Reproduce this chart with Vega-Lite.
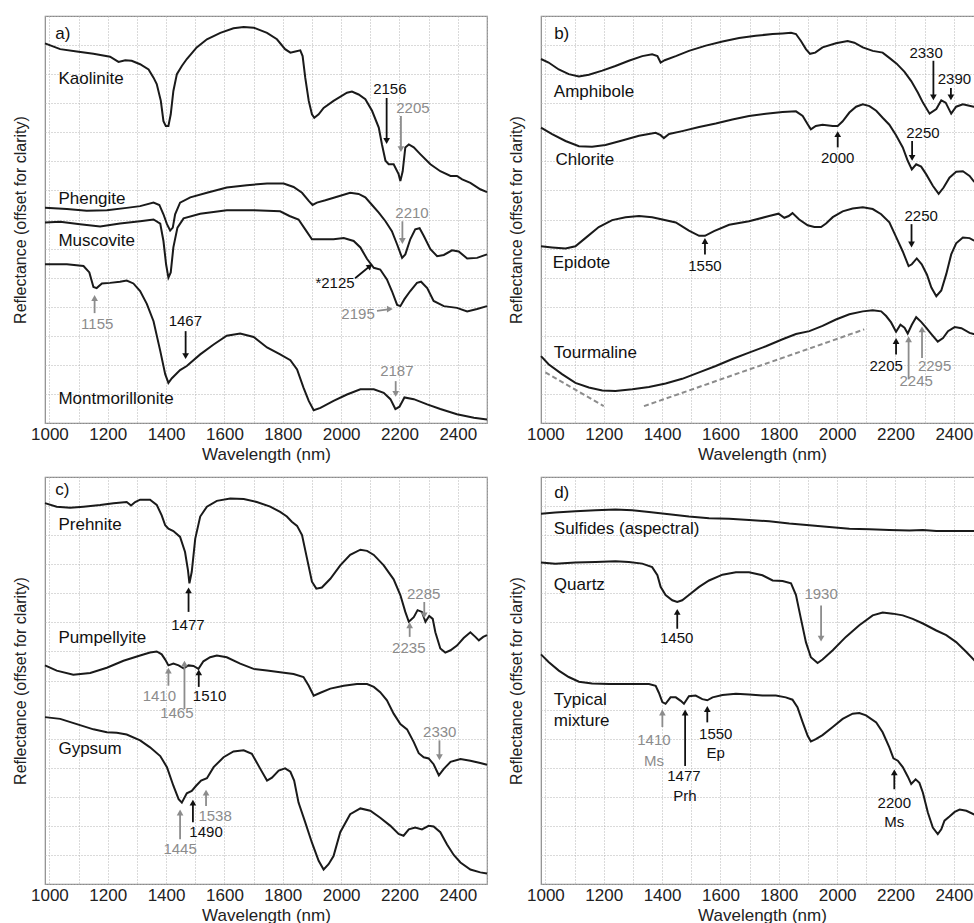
{
"$schema": "https://vega.github.io/schema/vega-lite/v6.json",
"padding": {"left": 11, "top": 15, "right": 0, "bottom": 0},
"background": "white",
"config": {
  "view": {"stroke": "#8a8a8a", "strokeWidth": 1.2},
  "axis": {"domain": false, "labelFont": "Liberation Sans", "titleFont": "Liberation Sans", "titleFontWeight": "normal", "labelColor": "#222", "titleColor": "#222", "tickColor": "#707070", "gridColor": "#b4b4b4", "gridDash": [1, 2], "gridWidth": 1},
  "axisX": {"values": [1000,1050,1100,1150,1200,1250,1300,1350,1400,1450,1500,1550,1600,1650,1700,1750,1800,1850,1900,1950,2000,2050,2100,2150,2200,2250,2300,2350,2400,2450,2500], "format": "d", "labelExpr": "datum.value % 200 === 0 ? datum.label : ''", "labelOverlap": false, "labelFlush": false, "labelFontSize": 17, "titleFontSize": 17, "labelPadding": 8, "titlePadding": 4, "tickSize": -5, "tickOpacity": {"condition": {"test": "datum.value % 100 === 0", "value": 1}, "value": 0}, "grid": true},
  "axisY": {"values": [0,0.2,0.4,0.6,0.8,1,1.2,1.4,1.6,1.8,2,2.2,2.4,2.6,2.8,3,3.2,3.4,3.6,3.8,4,4.2,4.4,4.6,4.8,5,5.2,5.4,5.6,5.8,6,6.2,6.4,6.6,6.8,7], "labels": false, "titleFontSize": 16, "titlePadding": 17, "tickSize": -6, "tickOpacity": {"condition": {"test": "abs(datum.value - round(datum.value)) < 0.01", "value": 1}, "value": 0}, "grid": true}
},
"datasets": {
"all": [
{"kind":"curve","panel":"a","series":"Kaolinite","x":985,"y":6.53},{"kind":"curve","panel":"a","series":"Kaolinite","x":1037,"y":6.43},{"kind":"curve","panel":"a","series":"Kaolinite","x":1094,"y":6.39},{"kind":"curve","panel":"a","series":"Kaolinite","x":1151,"y":6.35},{"kind":"curve","panel":"a","series":"Kaolinite","x":1208,"y":6.30},{"kind":"curve","panel":"a","series":"Kaolinite","x":1237,"y":6.21},{"kind":"curve","panel":"a","series":"Kaolinite","x":1260,"y":6.24},{"kind":"curve","panel":"a","series":"Kaolinite","x":1282,"y":6.23},{"kind":"curve","panel":"a","series":"Kaolinite","x":1311,"y":6.17},{"kind":"curve","panel":"a","series":"Kaolinite","x":1340,"y":6.08},{"kind":"curve","panel":"a","series":"Kaolinite","x":1357,"y":5.94},{"kind":"curve","panel":"a","series":"Kaolinite","x":1368,"y":5.83},{"kind":"curve","panel":"a","series":"Kaolinite","x":1382,"y":5.54},{"kind":"curve","panel":"a","series":"Kaolinite","x":1391,"y":5.19},{"kind":"curve","panel":"a","series":"Kaolinite","x":1399,"y":5.11},{"kind":"curve","panel":"a","series":"Kaolinite","x":1408,"y":5.11},{"kind":"curve","panel":"a","series":"Kaolinite","x":1416,"y":5.31},{"kind":"curve","panel":"a","series":"Kaolinite","x":1425,"y":5.71},{"kind":"curve","panel":"a","series":"Kaolinite","x":1437,"y":6.00},{"kind":"curve","panel":"a","series":"Kaolinite","x":1454,"y":6.14},{"kind":"curve","panel":"a","series":"Kaolinite","x":1471,"y":6.26},{"kind":"curve","panel":"a","series":"Kaolinite","x":1505,"y":6.46},{"kind":"curve","panel":"a","series":"Kaolinite","x":1540,"y":6.60},{"kind":"curve","panel":"a","series":"Kaolinite","x":1586,"y":6.71},{"kind":"curve","panel":"a","series":"Kaolinite","x":1631,"y":6.79},{"kind":"curve","panel":"a","series":"Kaolinite","x":1666,"y":6.81},{"kind":"curve","panel":"a","series":"Kaolinite","x":1700,"y":6.80},{"kind":"curve","panel":"a","series":"Kaolinite","x":1746,"y":6.71},{"kind":"curve","panel":"a","series":"Kaolinite","x":1780,"y":6.60},{"kind":"curve","panel":"a","series":"Kaolinite","x":1808,"y":6.43},{"kind":"curve","panel":"a","series":"Kaolinite","x":1826,"y":6.37},{"kind":"curve","panel":"a","series":"Kaolinite","x":1843,"y":6.39},{"kind":"curve","panel":"a","series":"Kaolinite","x":1860,"y":6.41},{"kind":"curve","panel":"a","series":"Kaolinite","x":1868,"y":6.31},{"kind":"curve","panel":"a","series":"Kaolinite","x":1877,"y":5.94},{"kind":"curve","panel":"a","series":"Kaolinite","x":1889,"y":5.54},{"kind":"curve","panel":"a","series":"Kaolinite","x":1900,"y":5.31},{"kind":"curve","panel":"a","series":"Kaolinite","x":1908,"y":5.25},{"kind":"curve","panel":"a","series":"Kaolinite","x":1923,"y":5.31},{"kind":"curve","panel":"a","series":"Kaolinite","x":1940,"y":5.42},{"kind":"curve","panel":"a","series":"Kaolinite","x":1974,"y":5.54},{"kind":"curve","panel":"a","series":"Kaolinite","x":2020,"y":5.68},{"kind":"curve","panel":"a","series":"Kaolinite","x":2037,"y":5.70},{"kind":"curve","panel":"a","series":"Kaolinite","x":2060,"y":5.65},{"kind":"curve","panel":"a","series":"Kaolinite","x":2083,"y":5.57},{"kind":"curve","panel":"a","series":"Kaolinite","x":2106,"y":5.37},{"kind":"curve","panel":"a","series":"Kaolinite","x":2129,"y":5.08},{"kind":"curve","panel":"a","series":"Kaolinite","x":2140,"y":4.79},{"kind":"curve","panel":"a","series":"Kaolinite","x":2152,"y":4.51},{"kind":"curve","panel":"a","series":"Kaolinite","x":2163,"y":4.45},{"kind":"curve","panel":"a","series":"Kaolinite","x":2180,"y":4.45},{"kind":"curve","panel":"a","series":"Kaolinite","x":2197,"y":4.28},{"kind":"curve","panel":"a","series":"Kaolinite","x":2203,"y":4.16},{"kind":"curve","panel":"a","series":"Kaolinite","x":2211,"y":4.33},{"kind":"curve","panel":"a","series":"Kaolinite","x":2220,"y":4.74},{"kind":"curve","panel":"a","series":"Kaolinite","x":2232,"y":4.79},{"kind":"curve","panel":"a","series":"Kaolinite","x":2249,"y":4.74},{"kind":"curve","panel":"a","series":"Kaolinite","x":2272,"y":4.62},{"kind":"curve","panel":"a","series":"Kaolinite","x":2306,"y":4.45},{"kind":"curve","panel":"a","series":"Kaolinite","x":2340,"y":4.33},{"kind":"curve","panel":"a","series":"Kaolinite","x":2375,"y":4.25},{"kind":"curve","panel":"a","series":"Kaolinite","x":2397,"y":4.25},{"kind":"curve","panel":"a","series":"Kaolinite","x":2415,"y":4.19},{"kind":"curve","panel":"a","series":"Kaolinite","x":2443,"y":4.13},{"kind":"curve","panel":"a","series":"Kaolinite","x":2477,"y":4.02},{"kind":"curve","panel":"a","series":"Kaolinite","x":2500,"y":3.97},
{"kind":"curve","panel":"a","series":"Phengite","x":985,"y":3.70},{"kind":"curve","panel":"a","series":"Phengite","x":1060,"y":3.68},{"kind":"curve","panel":"a","series":"Phengite","x":1128,"y":3.65},{"kind":"curve","panel":"a","series":"Phengite","x":1197,"y":3.66},{"kind":"curve","panel":"a","series":"Phengite","x":1265,"y":3.70},{"kind":"curve","panel":"a","series":"Phengite","x":1311,"y":3.73},{"kind":"curve","panel":"a","series":"Phengite","x":1357,"y":3.79},{"kind":"curve","panel":"a","series":"Phengite","x":1377,"y":3.75},{"kind":"curve","panel":"a","series":"Phengite","x":1391,"y":3.59},{"kind":"curve","panel":"a","series":"Phengite","x":1403,"y":3.42},{"kind":"curve","panel":"a","series":"Phengite","x":1414,"y":3.31},{"kind":"curve","panel":"a","series":"Phengite","x":1423,"y":3.36},{"kind":"curve","panel":"a","series":"Phengite","x":1431,"y":3.59},{"kind":"curve","panel":"a","series":"Phengite","x":1448,"y":3.79},{"kind":"curve","panel":"a","series":"Phengite","x":1483,"y":3.88},{"kind":"curve","panel":"a","series":"Phengite","x":1540,"y":3.96},{"kind":"curve","panel":"a","series":"Phengite","x":1608,"y":4.05},{"kind":"curve","panel":"a","series":"Phengite","x":1677,"y":4.09},{"kind":"curve","panel":"a","series":"Phengite","x":1746,"y":4.12},{"kind":"curve","panel":"a","series":"Phengite","x":1803,"y":4.12},{"kind":"curve","panel":"a","series":"Phengite","x":1837,"y":4.06},{"kind":"curve","panel":"a","series":"Phengite","x":1866,"y":3.96},{"kind":"curve","panel":"a","series":"Phengite","x":1889,"y":3.82},{"kind":"curve","panel":"a","series":"Phengite","x":1902,"y":3.75},{"kind":"curve","panel":"a","series":"Phengite","x":1917,"y":3.79},{"kind":"curve","panel":"a","series":"Phengite","x":1946,"y":3.83},{"kind":"curve","panel":"a","series":"Phengite","x":1986,"y":3.89},{"kind":"curve","panel":"a","series":"Phengite","x":2031,"y":3.96},{"kind":"curve","panel":"a","series":"Phengite","x":2060,"y":3.94},{"kind":"curve","panel":"a","series":"Phengite","x":2083,"y":3.88},{"kind":"curve","panel":"a","series":"Phengite","x":2106,"y":3.75},{"kind":"curve","panel":"a","series":"Phengite","x":2129,"y":3.62},{"kind":"curve","panel":"a","series":"Phengite","x":2152,"y":3.47},{"kind":"curve","panel":"a","series":"Phengite","x":2174,"y":3.30},{"kind":"curve","panel":"a","series":"Phengite","x":2192,"y":3.07},{"kind":"curve","panel":"a","series":"Phengite","x":2209,"y":2.84},{"kind":"curve","panel":"a","series":"Phengite","x":2220,"y":2.90},{"kind":"curve","panel":"a","series":"Phengite","x":2237,"y":3.16},{"kind":"curve","panel":"a","series":"Phengite","x":2254,"y":3.33},{"kind":"curve","panel":"a","series":"Phengite","x":2269,"y":3.35},{"kind":"curve","panel":"a","series":"Phengite","x":2283,"y":3.22},{"kind":"curve","panel":"a","series":"Phengite","x":2306,"y":2.99},{"kind":"curve","panel":"a","series":"Phengite","x":2329,"y":2.87},{"kind":"curve","panel":"a","series":"Phengite","x":2352,"y":2.89},{"kind":"curve","panel":"a","series":"Phengite","x":2380,"y":2.97},{"kind":"curve","panel":"a","series":"Phengite","x":2403,"y":2.95},{"kind":"curve","panel":"a","series":"Phengite","x":2432,"y":2.83},{"kind":"curve","panel":"a","series":"Phengite","x":2466,"y":2.84},{"kind":"curve","panel":"a","series":"Phengite","x":2500,"y":2.90},
{"kind":"curve","panel":"a","series":"Muscovite","x":985,"y":3.45},{"kind":"curve","panel":"a","series":"Muscovite","x":1037,"y":3.46},{"kind":"curve","panel":"a","series":"Muscovite","x":1105,"y":3.42},{"kind":"curve","panel":"a","series":"Muscovite","x":1174,"y":3.38},{"kind":"curve","panel":"a","series":"Muscovite","x":1242,"y":3.43},{"kind":"curve","panel":"a","series":"Muscovite","x":1311,"y":3.47},{"kind":"curve","panel":"a","series":"Muscovite","x":1357,"y":3.50},{"kind":"curve","panel":"a","series":"Muscovite","x":1380,"y":3.43},{"kind":"curve","panel":"a","series":"Muscovite","x":1391,"y":3.13},{"kind":"curve","panel":"a","series":"Muscovite","x":1400,"y":2.73},{"kind":"curve","panel":"a","series":"Muscovite","x":1408,"y":2.50},{"kind":"curve","panel":"a","series":"Muscovite","x":1416,"y":2.59},{"kind":"curve","panel":"a","series":"Muscovite","x":1425,"y":3.02},{"kind":"curve","panel":"a","series":"Muscovite","x":1439,"y":3.36},{"kind":"curve","panel":"a","series":"Muscovite","x":1460,"y":3.52},{"kind":"curve","panel":"a","series":"Muscovite","x":1517,"y":3.60},{"kind":"curve","panel":"a","series":"Muscovite","x":1608,"y":3.66},{"kind":"curve","panel":"a","series":"Muscovite","x":1700,"y":3.66},{"kind":"curve","panel":"a","series":"Muscovite","x":1791,"y":3.64},{"kind":"curve","panel":"a","series":"Muscovite","x":1823,"y":3.56},{"kind":"curve","panel":"a","series":"Muscovite","x":1854,"y":3.50},{"kind":"curve","panel":"a","series":"Muscovite","x":1877,"y":3.33},{"kind":"curve","panel":"a","series":"Muscovite","x":1900,"y":3.16},{"kind":"curve","panel":"a","series":"Muscovite","x":1929,"y":3.16},{"kind":"curve","panel":"a","series":"Muscovite","x":1974,"y":3.16},{"kind":"curve","panel":"a","series":"Muscovite","x":2009,"y":3.18},{"kind":"curve","panel":"a","series":"Muscovite","x":2043,"y":3.13},{"kind":"curve","panel":"a","series":"Muscovite","x":2066,"y":3.02},{"kind":"curve","panel":"a","series":"Muscovite","x":2089,"y":2.82},{"kind":"curve","panel":"a","series":"Muscovite","x":2112,"y":2.67},{"kind":"curve","panel":"a","series":"Muscovite","x":2134,"y":2.64},{"kind":"curve","panel":"a","series":"Muscovite","x":2157,"y":2.47},{"kind":"curve","panel":"a","series":"Muscovite","x":2174,"y":2.27},{"kind":"curve","panel":"a","series":"Muscovite","x":2192,"y":2.03},{"kind":"curve","panel":"a","series":"Muscovite","x":2203,"y":2.01},{"kind":"curve","panel":"a","series":"Muscovite","x":2217,"y":2.13},{"kind":"curve","panel":"a","series":"Muscovite","x":2237,"y":2.27},{"kind":"curve","panel":"a","series":"Muscovite","x":2260,"y":2.41},{"kind":"curve","panel":"a","series":"Muscovite","x":2274,"y":2.43},{"kind":"curve","panel":"a","series":"Muscovite","x":2295,"y":2.32},{"kind":"curve","panel":"a","series":"Muscovite","x":2317,"y":2.10},{"kind":"curve","panel":"a","series":"Muscovite","x":2352,"y":2.01},{"kind":"curve","panel":"a","series":"Muscovite","x":2397,"y":1.98},{"kind":"curve","panel":"a","series":"Muscovite","x":2432,"y":1.92},{"kind":"curve","panel":"a","series":"Muscovite","x":2466,"y":1.96},{"kind":"curve","panel":"a","series":"Muscovite","x":2500,"y":2.01},
{"kind":"curve","panel":"a","series":"Montmorillonite","x":985,"y":2.73},{"kind":"curve","panel":"a","series":"Montmorillonite","x":1060,"y":2.73},{"kind":"curve","panel":"a","series":"Montmorillonite","x":1117,"y":2.70},{"kind":"curve","panel":"a","series":"Montmorillonite","x":1137,"y":2.59},{"kind":"curve","panel":"a","series":"Montmorillonite","x":1151,"y":2.34},{"kind":"curve","panel":"a","series":"Montmorillonite","x":1162,"y":2.32},{"kind":"curve","panel":"a","series":"Montmorillonite","x":1180,"y":2.40},{"kind":"curve","panel":"a","series":"Montmorillonite","x":1208,"y":2.41},{"kind":"curve","panel":"a","series":"Montmorillonite","x":1242,"y":2.43},{"kind":"curve","panel":"a","series":"Montmorillonite","x":1265,"y":2.45},{"kind":"curve","panel":"a","series":"Montmorillonite","x":1288,"y":2.40},{"kind":"curve","panel":"a","series":"Montmorillonite","x":1311,"y":2.27},{"kind":"curve","panel":"a","series":"Montmorillonite","x":1334,"y":2.05},{"kind":"curve","panel":"a","series":"Montmorillonite","x":1357,"y":1.75},{"kind":"curve","panel":"a","series":"Montmorillonite","x":1380,"y":1.24},{"kind":"curve","panel":"a","series":"Montmorillonite","x":1397,"y":0.84},{"kind":"curve","panel":"a","series":"Montmorillonite","x":1408,"y":0.69},{"kind":"curve","panel":"a","series":"Montmorillonite","x":1420,"y":0.77},{"kind":"curve","panel":"a","series":"Montmorillonite","x":1448,"y":0.91},{"kind":"curve","panel":"a","series":"Montmorillonite","x":1471,"y":0.98},{"kind":"curve","panel":"a","series":"Montmorillonite","x":1517,"y":1.18},{"kind":"curve","panel":"a","series":"Montmorillonite","x":1563,"y":1.35},{"kind":"curve","panel":"a","series":"Montmorillonite","x":1608,"y":1.50},{"kind":"curve","panel":"a","series":"Montmorillonite","x":1654,"y":1.54},{"kind":"curve","panel":"a","series":"Montmorillonite","x":1700,"y":1.48},{"kind":"curve","panel":"a","series":"Montmorillonite","x":1746,"y":1.30},{"kind":"curve","panel":"a","series":"Montmorillonite","x":1791,"y":1.18},{"kind":"curve","panel":"a","series":"Montmorillonite","x":1826,"y":1.08},{"kind":"curve","panel":"a","series":"Montmorillonite","x":1849,"y":0.92},{"kind":"curve","panel":"a","series":"Montmorillonite","x":1871,"y":0.61},{"kind":"curve","panel":"a","series":"Montmorillonite","x":1889,"y":0.38},{"kind":"curve","panel":"a","series":"Montmorillonite","x":1906,"y":0.22},{"kind":"curve","panel":"a","series":"Montmorillonite","x":1929,"y":0.26},{"kind":"curve","panel":"a","series":"Montmorillonite","x":1974,"y":0.38},{"kind":"curve","panel":"a","series":"Montmorillonite","x":2020,"y":0.49},{"kind":"curve","panel":"a","series":"Montmorillonite","x":2066,"y":0.58},{"kind":"curve","panel":"a","series":"Montmorillonite","x":2112,"y":0.58},{"kind":"curve","panel":"a","series":"Montmorillonite","x":2146,"y":0.52},{"kind":"curve","panel":"a","series":"Montmorillonite","x":2169,"y":0.41},{"kind":"curve","panel":"a","series":"Montmorillonite","x":2186,"y":0.24},{"kind":"curve","panel":"a","series":"Montmorillonite","x":2200,"y":0.28},{"kind":"curve","panel":"a","series":"Montmorillonite","x":2217,"y":0.44},{"kind":"curve","panel":"a","series":"Montmorillonite","x":2249,"y":0.41},{"kind":"curve","panel":"a","series":"Montmorillonite","x":2295,"y":0.32},{"kind":"curve","panel":"a","series":"Montmorillonite","x":2340,"y":0.24},{"kind":"curve","panel":"a","series":"Montmorillonite","x":2397,"y":0.15},{"kind":"curve","panel":"a","series":"Montmorillonite","x":2455,"y":0.09},{"kind":"curve","panel":"a","series":"Montmorillonite","x":2500,"y":0.06},
{"kind":"curve","panel":"b","series":"Amphibole","x":985,"y":6.26},{"kind":"curve","panel":"b","series":"Amphibole","x":1011,"y":6.20},{"kind":"curve","panel":"b","series":"Amphibole","x":1046,"y":6.08},{"kind":"curve","panel":"b","series":"Amphibole","x":1080,"y":6.00},{"kind":"curve","panel":"b","series":"Amphibole","x":1115,"y":5.96},{"kind":"curve","panel":"b","series":"Amphibole","x":1149,"y":5.99},{"kind":"curve","panel":"b","series":"Amphibole","x":1195,"y":6.06},{"kind":"curve","panel":"b","series":"Amphibole","x":1240,"y":6.14},{"kind":"curve","panel":"b","series":"Amphibole","x":1286,"y":6.23},{"kind":"curve","panel":"b","series":"Amphibole","x":1332,"y":6.31},{"kind":"curve","panel":"b","series":"Amphibole","x":1366,"y":6.34},{"kind":"curve","panel":"b","series":"Amphibole","x":1384,"y":6.31},{"kind":"curve","panel":"b","series":"Amphibole","x":1395,"y":6.20},{"kind":"curve","panel":"b","series":"Amphibole","x":1409,"y":6.24},{"kind":"curve","panel":"b","series":"Amphibole","x":1447,"y":6.31},{"kind":"curve","panel":"b","series":"Amphibole","x":1492,"y":6.40},{"kind":"curve","panel":"b","series":"Amphibole","x":1550,"y":6.49},{"kind":"curve","panel":"b","series":"Amphibole","x":1607,"y":6.56},{"kind":"curve","panel":"b","series":"Amphibole","x":1664,"y":6.62},{"kind":"curve","panel":"b","series":"Amphibole","x":1721,"y":6.66},{"kind":"curve","panel":"b","series":"Amphibole","x":1779,"y":6.69},{"kind":"curve","panel":"b","series":"Amphibole","x":1813,"y":6.70},{"kind":"curve","panel":"b","series":"Amphibole","x":1842,"y":6.71},{"kind":"curve","panel":"b","series":"Amphibole","x":1859,"y":6.69},{"kind":"curve","panel":"b","series":"Amphibole","x":1876,"y":6.57},{"kind":"curve","panel":"b","series":"Amphibole","x":1893,"y":6.43},{"kind":"curve","panel":"b","series":"Amphibole","x":1907,"y":6.35},{"kind":"curve","panel":"b","series":"Amphibole","x":1925,"y":6.37},{"kind":"curve","panel":"b","series":"Amphibole","x":1950,"y":6.46},{"kind":"curve","panel":"b","series":"Amphibole","x":1996,"y":6.53},{"kind":"curve","panel":"b","series":"Amphibole","x":2036,"y":6.57},{"kind":"curve","panel":"b","series":"Amphibole","x":2059,"y":6.54},{"kind":"curve","panel":"b","series":"Amphibole","x":2088,"y":6.46},{"kind":"curve","panel":"b","series":"Amphibole","x":2122,"y":6.40},{"kind":"curve","panel":"b","series":"Amphibole","x":2156,"y":6.37},{"kind":"curve","panel":"b","series":"Amphibole","x":2179,"y":6.28},{"kind":"curve","panel":"b","series":"Amphibole","x":2204,"y":6.18},{"kind":"curve","panel":"b","series":"Amphibole","x":2231,"y":6.04},{"kind":"curve","panel":"b","series":"Amphibole","x":2254,"y":5.88},{"kind":"curve","panel":"b","series":"Amphibole","x":2277,"y":5.68},{"kind":"curve","panel":"b","series":"Amphibole","x":2294,"y":5.51},{"kind":"curve","panel":"b","series":"Amphibole","x":2317,"y":5.32},{"kind":"curve","panel":"b","series":"Amphibole","x":2340,"y":5.40},{"kind":"curve","panel":"b","series":"Amphibole","x":2357,"y":5.55},{"kind":"curve","panel":"b","series":"Amphibole","x":2372,"y":5.51},{"kind":"curve","panel":"b","series":"Amphibole","x":2391,"y":5.32},{"kind":"curve","panel":"b","series":"Amphibole","x":2408,"y":5.44},{"kind":"curve","panel":"b","series":"Amphibole","x":2431,"y":5.48},{"kind":"curve","panel":"b","series":"Amphibole","x":2468,"y":5.44},{"kind":"curve","panel":"b","series":"Amphibole","x":2500,"y":5.40},
{"kind":"curve","panel":"b","series":"Chlorite","x":985,"y":5.08},{"kind":"curve","panel":"b","series":"Chlorite","x":1023,"y":4.97},{"kind":"curve","panel":"b","series":"Chlorite","x":1069,"y":4.85},{"kind":"curve","panel":"b","series":"Chlorite","x":1115,"y":4.76},{"kind":"curve","panel":"b","series":"Chlorite","x":1160,"y":4.75},{"kind":"curve","panel":"b","series":"Chlorite","x":1206,"y":4.78},{"kind":"curve","panel":"b","series":"Chlorite","x":1263,"y":4.86},{"kind":"curve","panel":"b","series":"Chlorite","x":1321,"y":4.94},{"kind":"curve","panel":"b","series":"Chlorite","x":1378,"y":4.99},{"kind":"curve","panel":"b","series":"Chlorite","x":1395,"y":4.95},{"kind":"curve","panel":"b","series":"Chlorite","x":1406,"y":4.90},{"kind":"curve","panel":"b","series":"Chlorite","x":1424,"y":4.97},{"kind":"curve","panel":"b","series":"Chlorite","x":1469,"y":5.02},{"kind":"curve","panel":"b","series":"Chlorite","x":1527,"y":5.09},{"kind":"curve","panel":"b","series":"Chlorite","x":1584,"y":5.15},{"kind":"curve","panel":"b","series":"Chlorite","x":1641,"y":5.22},{"kind":"curve","panel":"b","series":"Chlorite","x":1698,"y":5.28},{"kind":"curve","panel":"b","series":"Chlorite","x":1756,"y":5.32},{"kind":"curve","panel":"b","series":"Chlorite","x":1813,"y":5.35},{"kind":"curve","panel":"b","series":"Chlorite","x":1859,"y":5.36},{"kind":"curve","panel":"b","series":"Chlorite","x":1882,"y":5.28},{"kind":"curve","panel":"b","series":"Chlorite","x":1899,"y":5.14},{"kind":"curve","panel":"b","series":"Chlorite","x":1910,"y":5.05},{"kind":"curve","panel":"b","series":"Chlorite","x":1927,"y":5.11},{"kind":"curve","panel":"b","series":"Chlorite","x":1950,"y":5.13},{"kind":"curve","panel":"b","series":"Chlorite","x":1985,"y":5.11},{"kind":"curve","panel":"b","series":"Chlorite","x":2002,"y":5.11},{"kind":"curve","panel":"b","series":"Chlorite","x":2019,"y":5.19},{"kind":"curve","panel":"b","series":"Chlorite","x":2042,"y":5.34},{"kind":"curve","panel":"b","series":"Chlorite","x":2065,"y":5.44},{"kind":"curve","panel":"b","series":"Chlorite","x":2088,"y":5.48},{"kind":"curve","panel":"b","series":"Chlorite","x":2111,"y":5.45},{"kind":"curve","panel":"b","series":"Chlorite","x":2134,"y":5.37},{"kind":"curve","panel":"b","series":"Chlorite","x":2156,"y":5.25},{"kind":"curve","panel":"b","series":"Chlorite","x":2179,"y":5.13},{"kind":"curve","panel":"b","series":"Chlorite","x":2202,"y":4.95},{"kind":"curve","panel":"b","series":"Chlorite","x":2225,"y":4.74},{"kind":"curve","panel":"b","series":"Chlorite","x":2242,"y":4.51},{"kind":"curve","panel":"b","series":"Chlorite","x":2256,"y":4.36},{"kind":"curve","panel":"b","series":"Chlorite","x":2271,"y":4.45},{"kind":"curve","panel":"b","series":"Chlorite","x":2288,"y":4.41},{"kind":"curve","panel":"b","series":"Chlorite","x":2305,"y":4.28},{"kind":"curve","panel":"b","series":"Chlorite","x":2328,"y":4.08},{"kind":"curve","panel":"b","series":"Chlorite","x":2348,"y":3.94},{"kind":"curve","panel":"b","series":"Chlorite","x":2365,"y":4.05},{"kind":"curve","panel":"b","series":"Chlorite","x":2385,"y":4.22},{"kind":"curve","panel":"b","series":"Chlorite","x":2408,"y":4.32},{"kind":"curve","panel":"b","series":"Chlorite","x":2431,"y":4.33},{"kind":"curve","panel":"b","series":"Chlorite","x":2454,"y":4.25},{"kind":"curve","panel":"b","series":"Chlorite","x":2468,"y":4.16},{"kind":"curve","panel":"b","series":"Chlorite","x":2500,"y":4.00},
{"kind":"curve","panel":"b","series":"Epidote","x":985,"y":3.04},{"kind":"curve","panel":"b","series":"Epidote","x":1023,"y":3.02},{"kind":"curve","panel":"b","series":"Epidote","x":1069,"y":3.00},{"kind":"curve","panel":"b","series":"Epidote","x":1103,"y":3.04},{"kind":"curve","panel":"b","series":"Epidote","x":1137,"y":3.18},{"kind":"curve","panel":"b","series":"Epidote","x":1183,"y":3.37},{"kind":"curve","panel":"b","series":"Epidote","x":1229,"y":3.49},{"kind":"curve","panel":"b","series":"Epidote","x":1275,"y":3.54},{"kind":"curve","panel":"b","series":"Epidote","x":1321,"y":3.56},{"kind":"curve","panel":"b","series":"Epidote","x":1366,"y":3.54},{"kind":"curve","panel":"b","series":"Epidote","x":1401,"y":3.50},{"kind":"curve","panel":"b","series":"Epidote","x":1447,"y":3.45},{"kind":"curve","panel":"b","series":"Epidote","x":1492,"y":3.31},{"kind":"curve","panel":"b","series":"Epidote","x":1527,"y":3.22},{"kind":"curve","panel":"b","series":"Epidote","x":1547,"y":3.22},{"kind":"curve","panel":"b","series":"Epidote","x":1578,"y":3.30},{"kind":"curve","panel":"b","series":"Epidote","x":1630,"y":3.41},{"kind":"curve","panel":"b","series":"Epidote","x":1698,"y":3.47},{"kind":"curve","panel":"b","series":"Epidote","x":1767,"y":3.56},{"kind":"curve","panel":"b","series":"Epidote","x":1799,"y":3.60},{"kind":"curve","panel":"b","series":"Epidote","x":1819,"y":3.53},{"kind":"curve","panel":"b","series":"Epidote","x":1834,"y":3.56},{"kind":"curve","panel":"b","series":"Epidote","x":1847,"y":3.61},{"kind":"curve","panel":"b","series":"Epidote","x":1870,"y":3.50},{"kind":"curve","panel":"b","series":"Epidote","x":1899,"y":3.40},{"kind":"curve","panel":"b","series":"Epidote","x":1922,"y":3.37},{"kind":"curve","panel":"b","series":"Epidote","x":1945,"y":3.37},{"kind":"curve","panel":"b","series":"Epidote","x":1962,"y":3.43},{"kind":"curve","panel":"b","series":"Epidote","x":1985,"y":3.54},{"kind":"curve","panel":"b","series":"Epidote","x":2019,"y":3.64},{"kind":"curve","panel":"b","series":"Epidote","x":2053,"y":3.69},{"kind":"curve","panel":"b","series":"Epidote","x":2088,"y":3.71},{"kind":"curve","panel":"b","series":"Epidote","x":2122,"y":3.68},{"kind":"curve","panel":"b","series":"Epidote","x":2151,"y":3.59},{"kind":"curve","panel":"b","series":"Epidote","x":2179,"y":3.45},{"kind":"curve","panel":"b","series":"Epidote","x":2202,"y":3.20},{"kind":"curve","panel":"b","series":"Epidote","x":2225,"y":2.95},{"kind":"curve","panel":"b","series":"Epidote","x":2245,"y":2.70},{"kind":"curve","panel":"b","series":"Epidote","x":2256,"y":2.73},{"kind":"curve","panel":"b","series":"Epidote","x":2273,"y":2.83},{"kind":"curve","panel":"b","series":"Epidote","x":2290,"y":2.73},{"kind":"curve","panel":"b","series":"Epidote","x":2308,"y":2.55},{"kind":"curve","panel":"b","series":"Epidote","x":2323,"y":2.33},{"kind":"curve","panel":"b","series":"Epidote","x":2340,"y":2.18},{"kind":"curve","panel":"b","series":"Epidote","x":2357,"y":2.28},{"kind":"curve","panel":"b","series":"Epidote","x":2374,"y":2.56},{"kind":"curve","panel":"b","series":"Epidote","x":2391,"y":2.90},{"kind":"curve","panel":"b","series":"Epidote","x":2408,"y":3.09},{"kind":"curve","panel":"b","series":"Epidote","x":2431,"y":3.19},{"kind":"curve","panel":"b","series":"Epidote","x":2454,"y":3.18},{"kind":"curve","panel":"b","series":"Epidote","x":2468,"y":3.14},{"kind":"curve","panel":"b","series":"Epidote","x":2500,"y":3.08},
{"kind":"curve","panel":"b","series":"Tourmaline","x":985,"y":1.15},{"kind":"curve","panel":"b","series":"Tourmaline","x":1011,"y":1.01},{"kind":"curve","panel":"b","series":"Tourmaline","x":1057,"y":0.84},{"kind":"curve","panel":"b","series":"Tourmaline","x":1103,"y":0.69},{"kind":"curve","panel":"b","series":"Tourmaline","x":1149,"y":0.61},{"kind":"curve","panel":"b","series":"Tourmaline","x":1195,"y":0.56},{"kind":"curve","panel":"b","series":"Tourmaline","x":1240,"y":0.55},{"kind":"curve","panel":"b","series":"Tourmaline","x":1298,"y":0.58},{"kind":"curve","panel":"b","series":"Tourmaline","x":1355,"y":0.62},{"kind":"curve","panel":"b","series":"Tourmaline","x":1412,"y":0.68},{"kind":"curve","panel":"b","series":"Tourmaline","x":1469,"y":0.76},{"kind":"curve","panel":"b","series":"Tourmaline","x":1527,"y":0.87},{"kind":"curve","panel":"b","series":"Tourmaline","x":1584,"y":0.98},{"kind":"curve","panel":"b","series":"Tourmaline","x":1641,"y":1.10},{"kind":"curve","panel":"b","series":"Tourmaline","x":1698,"y":1.21},{"kind":"curve","panel":"b","series":"Tourmaline","x":1756,"y":1.32},{"kind":"curve","panel":"b","series":"Tourmaline","x":1813,"y":1.44},{"kind":"curve","panel":"b","series":"Tourmaline","x":1859,"y":1.53},{"kind":"curve","panel":"b","series":"Tourmaline","x":1905,"y":1.58},{"kind":"curve","panel":"b","series":"Tourmaline","x":1950,"y":1.67},{"kind":"curve","panel":"b","series":"Tourmaline","x":1996,"y":1.78},{"kind":"curve","panel":"b","series":"Tourmaline","x":2042,"y":1.87},{"kind":"curve","panel":"b","series":"Tourmaline","x":2088,"y":1.92},{"kind":"curve","panel":"b","series":"Tourmaline","x":2122,"y":1.94},{"kind":"curve","panel":"b","series":"Tourmaline","x":2151,"y":1.92},{"kind":"curve","panel":"b","series":"Tourmaline","x":2168,"y":1.84},{"kind":"curve","panel":"b","series":"Tourmaline","x":2185,"y":1.73},{"kind":"curve","panel":"b","series":"Tourmaline","x":2202,"y":1.57},{"kind":"curve","panel":"b","series":"Tourmaline","x":2217,"y":1.69},{"kind":"curve","panel":"b","series":"Tourmaline","x":2231,"y":1.64},{"kind":"curve","panel":"b","series":"Tourmaline","x":2242,"y":1.54},{"kind":"curve","panel":"b","series":"Tourmaline","x":2256,"y":1.69},{"kind":"curve","panel":"b","series":"Tourmaline","x":2271,"y":1.82},{"kind":"curve","panel":"b","series":"Tourmaline","x":2288,"y":1.74},{"kind":"curve","panel":"b","series":"Tourmaline","x":2305,"y":1.64},{"kind":"curve","panel":"b","series":"Tourmaline","x":2323,"y":1.53},{"kind":"curve","panel":"b","series":"Tourmaline","x":2345,"y":1.40},{"kind":"curve","panel":"b","series":"Tourmaline","x":2363,"y":1.46},{"kind":"curve","panel":"b","series":"Tourmaline","x":2380,"y":1.58},{"kind":"curve","panel":"b","series":"Tourmaline","x":2403,"y":1.65},{"kind":"curve","panel":"b","series":"Tourmaline","x":2426,"y":1.63},{"kind":"curve","panel":"b","series":"Tourmaline","x":2454,"y":1.55},{"kind":"curve","panel":"b","series":"Tourmaline","x":2468,"y":1.53},{"kind":"curve","panel":"b","series":"Tourmaline","x":2500,"y":1.50},
{"kind":"curve","panel":"c","series":"Prehnite","x":985,"y":6.55},{"kind":"curve","panel":"c","series":"Prehnite","x":1025,"y":6.49},{"kind":"curve","panel":"c","series":"Prehnite","x":1071,"y":6.47},{"kind":"curve","panel":"c","series":"Prehnite","x":1117,"y":6.49},{"kind":"curve","panel":"c","series":"Prehnite","x":1174,"y":6.52},{"kind":"curve","panel":"c","series":"Prehnite","x":1220,"y":6.55},{"kind":"curve","panel":"c","series":"Prehnite","x":1265,"y":6.57},{"kind":"curve","panel":"c","series":"Prehnite","x":1280,"y":6.51},{"kind":"curve","panel":"c","series":"Prehnite","x":1294,"y":6.57},{"kind":"curve","panel":"c","series":"Prehnite","x":1311,"y":6.61},{"kind":"curve","panel":"c","series":"Prehnite","x":1345,"y":6.61},{"kind":"curve","panel":"c","series":"Prehnite","x":1368,"y":6.52},{"kind":"curve","panel":"c","series":"Prehnite","x":1385,"y":6.34},{"kind":"curve","panel":"c","series":"Prehnite","x":1397,"y":6.17},{"kind":"curve","panel":"c","series":"Prehnite","x":1408,"y":6.11},{"kind":"curve","panel":"c","series":"Prehnite","x":1425,"y":6.07},{"kind":"curve","panel":"c","series":"Prehnite","x":1448,"y":5.97},{"kind":"curve","panel":"c","series":"Prehnite","x":1465,"y":5.71},{"kind":"curve","panel":"c","series":"Prehnite","x":1475,"y":5.40},{"kind":"curve","panel":"c","series":"Prehnite","x":1480,"y":5.17},{"kind":"curve","panel":"c","series":"Prehnite","x":1488,"y":5.37},{"kind":"curve","panel":"c","series":"Prehnite","x":1500,"y":5.94},{"kind":"curve","panel":"c","series":"Prehnite","x":1517,"y":6.32},{"kind":"curve","panel":"c","series":"Prehnite","x":1540,"y":6.49},{"kind":"curve","panel":"c","series":"Prehnite","x":1574,"y":6.59},{"kind":"curve","panel":"c","series":"Prehnite","x":1620,"y":6.63},{"kind":"curve","panel":"c","series":"Prehnite","x":1666,"y":6.62},{"kind":"curve","panel":"c","series":"Prehnite","x":1711,"y":6.57},{"kind":"curve","panel":"c","series":"Prehnite","x":1757,"y":6.49},{"kind":"curve","panel":"c","series":"Prehnite","x":1791,"y":6.40},{"kind":"curve","panel":"c","series":"Prehnite","x":1814,"y":6.32},{"kind":"curve","panel":"c","series":"Prehnite","x":1831,"y":6.23},{"kind":"curve","panel":"c","series":"Prehnite","x":1849,"y":6.16},{"kind":"curve","panel":"c","series":"Prehnite","x":1866,"y":6.00},{"kind":"curve","panel":"c","series":"Prehnite","x":1883,"y":5.60},{"kind":"curve","panel":"c","series":"Prehnite","x":1900,"y":5.20},{"kind":"curve","panel":"c","series":"Prehnite","x":1915,"y":5.08},{"kind":"curve","panel":"c","series":"Prehnite","x":1934,"y":5.10},{"kind":"curve","panel":"c","series":"Prehnite","x":1963,"y":5.25},{"kind":"curve","panel":"c","series":"Prehnite","x":1997,"y":5.48},{"kind":"curve","panel":"c","series":"Prehnite","x":2031,"y":5.66},{"kind":"curve","panel":"c","series":"Prehnite","x":2066,"y":5.75},{"kind":"curve","panel":"c","series":"Prehnite","x":2089,"y":5.73},{"kind":"curve","panel":"c","series":"Prehnite","x":2112,"y":5.66},{"kind":"curve","panel":"c","series":"Prehnite","x":2146,"y":5.48},{"kind":"curve","panel":"c","series":"Prehnite","x":2180,"y":5.24},{"kind":"curve","panel":"c","series":"Prehnite","x":2203,"y":4.97},{"kind":"curve","panel":"c","series":"Prehnite","x":2220,"y":4.68},{"kind":"curve","panel":"c","series":"Prehnite","x":2232,"y":4.51},{"kind":"curve","panel":"c","series":"Prehnite","x":2249,"y":4.59},{"kind":"curve","panel":"c","series":"Prehnite","x":2262,"y":4.71},{"kind":"curve","panel":"c","series":"Prehnite","x":2277,"y":4.68},{"kind":"curve","panel":"c","series":"Prehnite","x":2289,"y":4.51},{"kind":"curve","panel":"c","series":"Prehnite","x":2302,"y":4.61},{"kind":"curve","panel":"c","series":"Prehnite","x":2314,"y":4.56},{"kind":"curve","panel":"c","series":"Prehnite","x":2323,"y":4.33},{"kind":"curve","panel":"c","series":"Prehnite","x":2340,"y":4.05},{"kind":"curve","panel":"c","series":"Prehnite","x":2357,"y":3.98},{"kind":"curve","panel":"c","series":"Prehnite","x":2375,"y":4.02},{"kind":"curve","panel":"c","series":"Prehnite","x":2397,"y":4.10},{"kind":"curve","panel":"c","series":"Prehnite","x":2420,"y":4.23},{"kind":"curve","panel":"c","series":"Prehnite","x":2443,"y":4.33},{"kind":"curve","panel":"c","series":"Prehnite","x":2460,"y":4.25},{"kind":"curve","panel":"c","series":"Prehnite","x":2472,"y":4.19},{"kind":"curve","panel":"c","series":"Prehnite","x":2487,"y":4.25},{"kind":"curve","panel":"c","series":"Prehnite","x":2500,"y":4.28},
{"kind":"curve","panel":"c","series":"Pumpellyite","x":985,"y":3.76},{"kind":"curve","panel":"c","series":"Pumpellyite","x":1025,"y":3.67},{"kind":"curve","panel":"c","series":"Pumpellyite","x":1082,"y":3.60},{"kind":"curve","panel":"c","series":"Pumpellyite","x":1140,"y":3.63},{"kind":"curve","panel":"c","series":"Pumpellyite","x":1197,"y":3.72},{"kind":"curve","panel":"c","series":"Pumpellyite","x":1254,"y":3.84},{"kind":"curve","panel":"c","series":"Pumpellyite","x":1311,"y":3.93},{"kind":"curve","panel":"c","series":"Pumpellyite","x":1345,"y":3.98},{"kind":"curve","panel":"c","series":"Pumpellyite","x":1368,"y":4.00},{"kind":"curve","panel":"c","series":"Pumpellyite","x":1385,"y":3.95},{"kind":"curve","panel":"c","series":"Pumpellyite","x":1397,"y":3.86},{"kind":"curve","panel":"c","series":"Pumpellyite","x":1408,"y":3.76},{"kind":"curve","panel":"c","series":"Pumpellyite","x":1425,"y":3.79},{"kind":"curve","panel":"c","series":"Pumpellyite","x":1443,"y":3.76},{"kind":"curve","panel":"c","series":"Pumpellyite","x":1460,"y":3.71},{"kind":"curve","panel":"c","series":"Pumpellyite","x":1477,"y":3.76},{"kind":"curve","panel":"c","series":"Pumpellyite","x":1494,"y":3.75},{"kind":"curve","panel":"c","series":"Pumpellyite","x":1511,"y":3.70},{"kind":"curve","panel":"c","series":"Pumpellyite","x":1528,"y":3.83},{"kind":"curve","panel":"c","series":"Pumpellyite","x":1551,"y":3.90},{"kind":"curve","panel":"c","series":"Pumpellyite","x":1574,"y":3.93},{"kind":"curve","panel":"c","series":"Pumpellyite","x":1608,"y":3.90},{"kind":"curve","panel":"c","series":"Pumpellyite","x":1654,"y":3.79},{"kind":"curve","panel":"c","series":"Pumpellyite","x":1700,"y":3.70},{"kind":"curve","panel":"c","series":"Pumpellyite","x":1746,"y":3.67},{"kind":"curve","panel":"c","series":"Pumpellyite","x":1791,"y":3.64},{"kind":"curve","panel":"c","series":"Pumpellyite","x":1837,"y":3.61},{"kind":"curve","panel":"c","series":"Pumpellyite","x":1871,"y":3.56},{"kind":"curve","panel":"c","series":"Pumpellyite","x":1889,"y":3.41},{"kind":"curve","panel":"c","series":"Pumpellyite","x":1906,"y":3.24},{"kind":"curve","panel":"c","series":"Pumpellyite","x":1929,"y":3.29},{"kind":"curve","panel":"c","series":"Pumpellyite","x":1963,"y":3.36},{"kind":"curve","panel":"c","series":"Pumpellyite","x":2009,"y":3.41},{"kind":"curve","panel":"c","series":"Pumpellyite","x":2054,"y":3.44},{"kind":"curve","panel":"c","series":"Pumpellyite","x":2089,"y":3.44},{"kind":"curve","panel":"c","series":"Pumpellyite","x":2112,"y":3.39},{"kind":"curve","panel":"c","series":"Pumpellyite","x":2134,"y":3.30},{"kind":"curve","panel":"c","series":"Pumpellyite","x":2157,"y":3.16},{"kind":"curve","panel":"c","series":"Pumpellyite","x":2180,"y":2.93},{"kind":"curve","panel":"c","series":"Pumpellyite","x":2203,"y":2.75},{"kind":"curve","panel":"c","series":"Pumpellyite","x":2226,"y":2.66},{"kind":"curve","panel":"c","series":"Pumpellyite","x":2249,"y":2.44},{"kind":"curve","panel":"c","series":"Pumpellyite","x":2266,"y":2.25},{"kind":"curve","panel":"c","series":"Pumpellyite","x":2283,"y":2.18},{"kind":"curve","panel":"c","series":"Pumpellyite","x":2300,"y":2.16},{"kind":"curve","panel":"c","series":"Pumpellyite","x":2317,"y":2.06},{"kind":"curve","panel":"c","series":"Pumpellyite","x":2335,"y":1.87},{"kind":"curve","panel":"c","series":"Pumpellyite","x":2352,"y":1.98},{"kind":"curve","panel":"c","series":"Pumpellyite","x":2375,"y":2.10},{"kind":"curve","panel":"c","series":"Pumpellyite","x":2409,"y":2.15},{"kind":"curve","panel":"c","series":"Pumpellyite","x":2443,"y":2.12},{"kind":"curve","panel":"c","series":"Pumpellyite","x":2477,"y":2.08},{"kind":"curve","panel":"c","series":"Pumpellyite","x":2500,"y":2.05},
{"kind":"curve","panel":"c","series":"Gypsum","x":985,"y":2.87},{"kind":"curve","panel":"c","series":"Gypsum","x":1037,"y":2.84},{"kind":"curve","panel":"c","series":"Gypsum","x":1094,"y":2.75},{"kind":"curve","panel":"c","series":"Gypsum","x":1151,"y":2.66},{"kind":"curve","panel":"c","series":"Gypsum","x":1197,"y":2.61},{"kind":"curve","panel":"c","series":"Gypsum","x":1231,"y":2.60},{"kind":"curve","panel":"c","series":"Gypsum","x":1265,"y":2.57},{"kind":"curve","panel":"c","series":"Gypsum","x":1311,"y":2.47},{"kind":"curve","panel":"c","series":"Gypsum","x":1345,"y":2.35},{"kind":"curve","panel":"c","series":"Gypsum","x":1380,"y":2.20},{"kind":"curve","panel":"c","series":"Gypsum","x":1403,"y":2.01},{"kind":"curve","panel":"c","series":"Gypsum","x":1425,"y":1.69},{"kind":"curve","panel":"c","series":"Gypsum","x":1443,"y":1.46},{"kind":"curve","panel":"c","series":"Gypsum","x":1454,"y":1.40},{"kind":"curve","panel":"c","series":"Gypsum","x":1471,"y":1.56},{"kind":"curve","panel":"c","series":"Gypsum","x":1488,"y":1.60},{"kind":"curve","panel":"c","series":"Gypsum","x":1503,"y":1.69},{"kind":"curve","panel":"c","series":"Gypsum","x":1520,"y":1.78},{"kind":"curve","panel":"c","series":"Gypsum","x":1540,"y":1.82},{"kind":"curve","panel":"c","series":"Gypsum","x":1563,"y":2.01},{"kind":"curve","panel":"c","series":"Gypsum","x":1597,"y":2.18},{"kind":"curve","panel":"c","series":"Gypsum","x":1631,"y":2.28},{"kind":"curve","panel":"c","series":"Gypsum","x":1666,"y":2.30},{"kind":"curve","panel":"c","series":"Gypsum","x":1694,"y":2.24},{"kind":"curve","panel":"c","series":"Gypsum","x":1723,"y":1.98},{"kind":"curve","panel":"c","series":"Gypsum","x":1746,"y":1.78},{"kind":"curve","panel":"c","series":"Gypsum","x":1763,"y":1.83},{"kind":"curve","panel":"c","series":"Gypsum","x":1786,"y":1.95},{"kind":"curve","panel":"c","series":"Gypsum","x":1808,"y":1.99},{"kind":"curve","panel":"c","series":"Gypsum","x":1826,"y":1.93},{"kind":"curve","panel":"c","series":"Gypsum","x":1839,"y":1.78},{"kind":"curve","panel":"c","series":"Gypsum","x":1854,"y":1.40},{"kind":"curve","panel":"c","series":"Gypsum","x":1877,"y":1.06},{"kind":"curve","panel":"c","series":"Gypsum","x":1900,"y":0.71},{"kind":"curve","panel":"c","series":"Gypsum","x":1923,"y":0.40},{"kind":"curve","panel":"c","series":"Gypsum","x":1940,"y":0.25},{"kind":"curve","panel":"c","series":"Gypsum","x":1957,"y":0.34},{"kind":"curve","panel":"c","series":"Gypsum","x":1974,"y":0.48},{"kind":"curve","panel":"c","series":"Gypsum","x":1997,"y":0.89},{"kind":"curve","panel":"c","series":"Gypsum","x":2031,"y":1.20},{"kind":"curve","panel":"c","series":"Gypsum","x":2066,"y":1.30},{"kind":"curve","panel":"c","series":"Gypsum","x":2100,"y":1.26},{"kind":"curve","panel":"c","series":"Gypsum","x":2134,"y":1.14},{"kind":"curve","panel":"c","series":"Gypsum","x":2169,"y":1.00},{"kind":"curve","panel":"c","series":"Gypsum","x":2197,"y":0.86},{"kind":"curve","panel":"c","series":"Gypsum","x":2214,"y":0.83},{"kind":"curve","panel":"c","series":"Gypsum","x":2232,"y":0.94},{"kind":"curve","panel":"c","series":"Gypsum","x":2254,"y":0.97},{"kind":"curve","panel":"c","series":"Gypsum","x":2277,"y":0.94},{"kind":"curve","panel":"c","series":"Gypsum","x":2300,"y":1.00},{"kind":"curve","panel":"c","series":"Gypsum","x":2317,"y":0.99},{"kind":"curve","panel":"c","series":"Gypsum","x":2340,"y":0.89},{"kind":"curve","panel":"c","series":"Gypsum","x":2363,"y":0.68},{"kind":"curve","panel":"c","series":"Gypsum","x":2386,"y":0.50},{"kind":"curve","panel":"c","series":"Gypsum","x":2409,"y":0.37},{"kind":"curve","panel":"c","series":"Gypsum","x":2443,"y":0.25},{"kind":"curve","panel":"c","series":"Gypsum","x":2477,"y":0.20},{"kind":"curve","panel":"c","series":"Gypsum","x":2500,"y":0.18},
{"kind":"curve","panel":"d","series":"Sulfides (aspectral)","x":985,"y":6.37},{"kind":"curve","panel":"d","series":"Sulfides (aspectral)","x":1034,"y":6.39},{"kind":"curve","panel":"d","series":"Sulfides (aspectral)","x":1103,"y":6.41},{"kind":"curve","panel":"d","series":"Sulfides (aspectral)","x":1172,"y":6.43},{"kind":"curve","panel":"d","series":"Sulfides (aspectral)","x":1240,"y":6.44},{"kind":"curve","panel":"d","series":"Sulfides (aspectral)","x":1298,"y":6.43},{"kind":"curve","panel":"d","series":"Sulfides (aspectral)","x":1355,"y":6.40},{"kind":"curve","panel":"d","series":"Sulfides (aspectral)","x":1424,"y":6.36},{"kind":"curve","panel":"d","series":"Sulfides (aspectral)","x":1492,"y":6.32},{"kind":"curve","panel":"d","series":"Sulfides (aspectral)","x":1561,"y":6.29},{"kind":"curve","panel":"d","series":"Sulfides (aspectral)","x":1630,"y":6.28},{"kind":"curve","panel":"d","series":"Sulfides (aspectral)","x":1698,"y":6.26},{"kind":"curve","panel":"d","series":"Sulfides (aspectral)","x":1767,"y":6.24},{"kind":"curve","panel":"d","series":"Sulfides (aspectral)","x":1836,"y":6.20},{"kind":"curve","panel":"d","series":"Sulfides (aspectral)","x":1905,"y":6.17},{"kind":"curve","panel":"d","series":"Sulfides (aspectral)","x":1973,"y":6.14},{"kind":"curve","panel":"d","series":"Sulfides (aspectral)","x":2042,"y":6.11},{"kind":"curve","panel":"d","series":"Sulfides (aspectral)","x":2111,"y":6.10},{"kind":"curve","panel":"d","series":"Sulfides (aspectral)","x":2179,"y":6.09},{"kind":"curve","panel":"d","series":"Sulfides (aspectral)","x":2248,"y":6.08},{"kind":"curve","panel":"d","series":"Sulfides (aspectral)","x":2294,"y":6.09},{"kind":"curve","panel":"d","series":"Sulfides (aspectral)","x":2340,"y":6.07},{"kind":"curve","panel":"d","series":"Sulfides (aspectral)","x":2408,"y":6.07},{"kind":"curve","panel":"d","series":"Sulfides (aspectral)","x":2468,"y":6.07},{"kind":"curve","panel":"d","series":"Sulfides (aspectral)","x":2500,"y":6.07},
{"kind":"curve","panel":"d","series":"Quartz","x":985,"y":5.53},{"kind":"curve","panel":"d","series":"Quartz","x":1034,"y":5.51},{"kind":"curve","panel":"d","series":"Quartz","x":1103,"y":5.53},{"kind":"curve","panel":"d","series":"Quartz","x":1172,"y":5.54},{"kind":"curve","panel":"d","series":"Quartz","x":1240,"y":5.55},{"kind":"curve","panel":"d","series":"Quartz","x":1286,"y":5.54},{"kind":"curve","panel":"d","series":"Quartz","x":1332,"y":5.51},{"kind":"curve","panel":"d","series":"Quartz","x":1366,"y":5.45},{"kind":"curve","panel":"d","series":"Quartz","x":1384,"y":5.31},{"kind":"curve","panel":"d","series":"Quartz","x":1395,"y":5.11},{"kind":"curve","panel":"d","series":"Quartz","x":1412,"y":4.97},{"kind":"curve","panel":"d","series":"Quartz","x":1435,"y":4.88},{"kind":"curve","panel":"d","series":"Quartz","x":1452,"y":4.85},{"kind":"curve","panel":"d","series":"Quartz","x":1469,"y":4.88},{"kind":"curve","panel":"d","series":"Quartz","x":1492,"y":4.97},{"kind":"curve","panel":"d","series":"Quartz","x":1527,"y":5.11},{"kind":"curve","panel":"d","series":"Quartz","x":1561,"y":5.22},{"kind":"curve","panel":"d","series":"Quartz","x":1607,"y":5.32},{"kind":"curve","panel":"d","series":"Quartz","x":1653,"y":5.36},{"kind":"curve","panel":"d","series":"Quartz","x":1698,"y":5.36},{"kind":"curve","panel":"d","series":"Quartz","x":1744,"y":5.31},{"kind":"curve","panel":"d","series":"Quartz","x":1779,"y":5.22},{"kind":"curve","panel":"d","series":"Quartz","x":1813,"y":5.21},{"kind":"curve","panel":"d","series":"Quartz","x":1842,"y":5.17},{"kind":"curve","panel":"d","series":"Quartz","x":1859,"y":4.97},{"kind":"curve","panel":"d","series":"Quartz","x":1876,"y":4.56},{"kind":"curve","panel":"d","series":"Quartz","x":1893,"y":4.16},{"kind":"curve","panel":"d","series":"Quartz","x":1910,"y":3.90},{"kind":"curve","panel":"d","series":"Quartz","x":1933,"y":3.80},{"kind":"curve","panel":"d","series":"Quartz","x":1950,"y":3.86},{"kind":"curve","panel":"d","series":"Quartz","x":1985,"y":4.02},{"kind":"curve","panel":"d","series":"Quartz","x":2030,"y":4.25},{"kind":"curve","panel":"d","series":"Quartz","x":2076,"y":4.45},{"kind":"curve","panel":"d","series":"Quartz","x":2122,"y":4.62},{"kind":"curve","panel":"d","series":"Quartz","x":2156,"y":4.67},{"kind":"curve","panel":"d","series":"Quartz","x":2191,"y":4.65},{"kind":"curve","panel":"d","series":"Quartz","x":2225,"y":4.62},{"kind":"curve","panel":"d","series":"Quartz","x":2259,"y":4.56},{"kind":"curve","panel":"d","series":"Quartz","x":2294,"y":4.48},{"kind":"curve","panel":"d","series":"Quartz","x":2340,"y":4.36},{"kind":"curve","panel":"d","series":"Quartz","x":2374,"y":4.28},{"kind":"curve","panel":"d","series":"Quartz","x":2408,"y":4.16},{"kind":"curve","panel":"d","series":"Quartz","x":2443,"y":3.99},{"kind":"curve","panel":"d","series":"Quartz","x":2468,"y":3.86},{"kind":"curve","panel":"d","series":"Quartz","x":2500,"y":3.68},
{"kind":"curve","panel":"d","series":"Typical mixture","x":985,"y":3.95},{"kind":"curve","panel":"d","series":"Typical mixture","x":1011,"y":3.82},{"kind":"curve","panel":"d","series":"Typical mixture","x":1046,"y":3.67},{"kind":"curve","panel":"d","series":"Typical mixture","x":1080,"y":3.56},{"kind":"curve","panel":"d","series":"Typical mixture","x":1115,"y":3.48},{"kind":"curve","panel":"d","series":"Typical mixture","x":1160,"y":3.45},{"kind":"curve","panel":"d","series":"Typical mixture","x":1218,"y":3.44},{"kind":"curve","panel":"d","series":"Typical mixture","x":1286,"y":3.44},{"kind":"curve","panel":"d","series":"Typical mixture","x":1355,"y":3.44},{"kind":"curve","panel":"d","series":"Typical mixture","x":1378,"y":3.41},{"kind":"curve","panel":"d","series":"Typical mixture","x":1389,"y":3.29},{"kind":"curve","panel":"d","series":"Typical mixture","x":1401,"y":3.13},{"kind":"curve","panel":"d","series":"Typical mixture","x":1412,"y":3.10},{"kind":"curve","panel":"d","series":"Typical mixture","x":1429,"y":3.21},{"kind":"curve","panel":"d","series":"Typical mixture","x":1447,"y":3.21},{"kind":"curve","panel":"d","series":"Typical mixture","x":1464,"y":3.15},{"kind":"curve","panel":"d","series":"Typical mixture","x":1475,"y":3.10},{"kind":"curve","panel":"d","series":"Typical mixture","x":1492,"y":3.23},{"kind":"curve","panel":"d","series":"Typical mixture","x":1515,"y":3.24},{"kind":"curve","panel":"d","series":"Typical mixture","x":1538,"y":3.18},{"kind":"curve","panel":"d","series":"Typical mixture","x":1555,"y":3.16},{"kind":"curve","panel":"d","series":"Typical mixture","x":1573,"y":3.21},{"kind":"curve","panel":"d","series":"Typical mixture","x":1607,"y":3.25},{"kind":"curve","panel":"d","series":"Typical mixture","x":1653,"y":3.27},{"kind":"curve","panel":"d","series":"Typical mixture","x":1698,"y":3.26},{"kind":"curve","panel":"d","series":"Typical mixture","x":1744,"y":3.24},{"kind":"curve","panel":"d","series":"Typical mixture","x":1790,"y":3.24},{"kind":"curve","panel":"d","series":"Typical mixture","x":1824,"y":3.21},{"kind":"curve","panel":"d","series":"Typical mixture","x":1847,"y":3.17},{"kind":"curve","panel":"d","series":"Typical mixture","x":1864,"y":3.04},{"kind":"curve","panel":"d","series":"Typical mixture","x":1882,"y":2.78},{"kind":"curve","panel":"d","series":"Typical mixture","x":1899,"y":2.55},{"kind":"curve","panel":"d","series":"Typical mixture","x":1910,"y":2.45},{"kind":"curve","panel":"d","series":"Typical mixture","x":1927,"y":2.49},{"kind":"curve","panel":"d","series":"Typical mixture","x":1950,"y":2.56},{"kind":"curve","panel":"d","series":"Typical mixture","x":1985,"y":2.70},{"kind":"curve","panel":"d","series":"Typical mixture","x":2019,"y":2.84},{"kind":"curve","panel":"d","series":"Typical mixture","x":2053,"y":2.93},{"kind":"curve","panel":"d","series":"Typical mixture","x":2076,"y":2.94},{"kind":"curve","panel":"d","series":"Typical mixture","x":2099,"y":2.90},{"kind":"curve","panel":"d","series":"Typical mixture","x":2134,"y":2.78},{"kind":"curve","panel":"d","series":"Typical mixture","x":2156,"y":2.61},{"kind":"curve","panel":"d","series":"Typical mixture","x":2179,"y":2.35},{"kind":"curve","panel":"d","series":"Typical mixture","x":2193,"y":2.16},{"kind":"curve","panel":"d","series":"Typical mixture","x":2208,"y":2.12},{"kind":"curve","panel":"d","series":"Typical mixture","x":2225,"y":2.01},{"kind":"curve","panel":"d","series":"Typical mixture","x":2242,"y":1.85},{"kind":"curve","panel":"d","series":"Typical mixture","x":2254,"y":1.72},{"kind":"curve","panel":"d","series":"Typical mixture","x":2269,"y":1.80},{"kind":"curve","panel":"d","series":"Typical mixture","x":2282,"y":1.74},{"kind":"curve","panel":"d","series":"Typical mixture","x":2294,"y":1.57},{"kind":"curve","panel":"d","series":"Typical mixture","x":2311,"y":1.23},{"kind":"curve","panel":"d","series":"Typical mixture","x":2328,"y":0.97},{"kind":"curve","panel":"d","series":"Typical mixture","x":2345,"y":0.86},{"kind":"curve","panel":"d","series":"Typical mixture","x":2357,"y":0.94},{"kind":"curve","panel":"d","series":"Typical mixture","x":2368,"y":1.09},{"kind":"curve","panel":"d","series":"Typical mixture","x":2385,"y":1.16},{"kind":"curve","panel":"d","series":"Typical mixture","x":2403,"y":1.24},{"kind":"curve","panel":"d","series":"Typical mixture","x":2420,"y":1.28},{"kind":"curve","panel":"d","series":"Typical mixture","x":2443,"y":1.26},{"kind":"curve","panel":"d","series":"Typical mixture","x":2468,"y":1.20},{"kind":"curve","panel":"d","series":"Typical mixture","x":2500,"y":1.15},
{"kind":"hull","panel":"b","x":1000,"y":0.87,"x2":1200,"y2":0.29},
{"kind":"hull","panel":"b","x":1338,"y":0.29,"x2":2093,"y2":1.61},
{"kind":"name","panel":"a","text":"a)","x":1020,"y":6.69},
{"kind":"name","panel":"a","text":"Kaolinite","x":1031,"y":5.92},
{"kind":"name","panel":"a","text":"Phengite","x":1031,"y":3.85},
{"kind":"name","panel":"a","text":"Muscovite","x":1031,"y":3.13},
{"kind":"name","panel":"a","text":"Montmorillonite","x":1031,"y":0.41},
{"kind":"name","panel":"b","text":"b)","x":1030,"y":6.69},
{"kind":"name","panel":"b","text":"Amphibole","x":1029,"y":5.70},
{"kind":"name","panel":"b","text":"Chlorite","x":1035,"y":4.52},
{"kind":"name","panel":"b","text":"Epidote","x":1025,"y":2.76},
{"kind":"name","panel":"b","text":"Tourmaline","x":1029,"y":1.21},
{"kind":"name","panel":"c","text":"c)","x":1020,"y":6.78},
{"kind":"name","panel":"c","text":"Prehnite","x":1031,"y":6.17},
{"kind":"name","panel":"c","text":"Pumpellyite","x":1031,"y":4.23},
{"kind":"name","panel":"c","text":"Gypsum","x":1031,"y":2.32},
{"kind":"name","panel":"d","text":"d)","x":1030,"y":6.72},
{"kind":"name","panel":"d","text":"Sulfides (aspectral)","x":1029,"y":6.10},
{"kind":"name","panel":"d","text":"Quartz","x":1029,"y":5.15},
{"kind":"name","panel":"d","text":"Typical","x":1029,"y":3.17},
{"kind":"name","panel":"d","text":"mixture","x":1029,"y":2.81},
{"kind":"peak","panel":"a","text":"2156","tone":"primary","x":2167,"y":5.74},
{"kind":"peak","panel":"a","text":"2205","tone":"secondary","x":2246,"y":5.42},
{"kind":"peak","panel":"a","text":"2210","tone":"secondary","x":2243,"y":3.61},
{"kind":"peak","panel":"a","text":"*2125","tone":"primary","x":1979,"y":2.41},
{"kind":"peak","panel":"a","text":"2195","tone":"secondary","x":2058,"y":1.87},
{"kind":"peak","panel":"a","text":"1155","tone":"secondary","x":1164,"y":1.70},
{"kind":"peak","panel":"a","text":"1467","tone":"primary","x":1466,"y":1.75},
{"kind":"peak","panel":"a","text":"2187","tone":"secondary","x":2191,"y":0.89},
{"kind":"peak","panel":"b","text":"2330","tone":"primary","x":2305,"y":6.37},
{"kind":"peak","panel":"b","text":"2390","tone":"primary","x":2402,"y":5.91},
{"kind":"peak","panel":"b","text":"2000","tone":"primary","x":2002,"y":4.56},
{"kind":"peak","panel":"b","text":"2250","tone":"primary","x":2294,"y":4.99},
{"kind":"peak","panel":"b","text":"2250","tone":"primary","x":2288,"y":3.56},
{"kind":"peak","panel":"b","text":"1550","tone":"primary","x":1547,"y":2.70},
{"kind":"peak","panel":"b","text":"2205","tone":"primary","x":2168,"y":0.98},
{"kind":"peak","panel":"b","text":"2245","tone":"secondary","x":2271,"y":0.72},
{"kind":"peak","panel":"b","text":"2295","tone":"secondary","x":2334,"y":0.98},
{"kind":"peak","panel":"c","text":"1477","tone":"primary","x":1475,"y":4.45},
{"kind":"peak","panel":"c","text":"2285","tone":"secondary","x":2283,"y":4.99},
{"kind":"peak","panel":"c","text":"2235","tone":"secondary","x":2232,"y":4.06},
{"kind":"peak","panel":"c","text":"1410","tone":"secondary","x":1377,"y":3.24},
{"kind":"peak","panel":"c","text":"1465","tone":"secondary","x":1437,"y":2.94},
{"kind":"peak","panel":"c","text":"1510","tone":"primary","x":1549,"y":3.23},
{"kind":"peak","panel":"c","text":"2330","tone":"secondary","x":2338,"y":2.61},
{"kind":"peak","panel":"c","text":"1538","tone":"secondary","x":1568,"y":1.17},
{"kind":"peak","panel":"c","text":"1490","tone":"primary","x":1537,"y":0.89},
{"kind":"peak","panel":"c","text":"1445","tone":"secondary","x":1448,"y":0.60},
{"kind":"peak","panel":"d","text":"1450","tone":"primary","x":1450,"y":4.23},
{"kind":"peak","panel":"d","text":"1930","tone":"secondary","x":1945,"y":4.98},
{"kind":"peak","panel":"d","text":"1410","tone":"secondary","x":1372,"y":2.47},
{"kind":"peak","panel":"d","text":"Ms","tone":"secondary","x":1372,"y":2.12},
{"kind":"peak","panel":"d","text":"1477","tone":"primary","x":1475,"y":1.86},
{"kind":"peak","panel":"d","text":"Prh","tone":"primary","x":1478,"y":1.52},
{"kind":"peak","panel":"d","text":"1550","tone":"primary","x":1584,"y":2.58},
{"kind":"peak","panel":"d","text":"Ep","tone":"primary","x":1584,"y":2.25},
{"kind":"peak","panel":"d","text":"2200","tone":"primary","x":2196,"y":1.39},
{"kind":"peak","panel":"d","text":"Ms","tone":"primary","x":2196,"y":1.06},
{"kind":"arrow","panel":"a","tone":"primary","dir":"down","x":2156,"y":5.59,"x2":2156,"y2":4.85},
{"kind":"arrow","panel":"a","tone":"secondary","dir":"down","x":2205,"y":5.28,"x2":2205,"y2":4.71},
{"kind":"arrow","panel":"a","tone":"secondary","dir":"down","x":2210,"y":3.47,"x2":2210,"y2":3.13},
{"kind":"arrow","panel":"a","tone":"primary","dir":"upright","x":2048,"y":2.49,"x2":2099,"y2":2.70},
{"kind":"arrow","panel":"a","tone":"secondary","dir":"right","x":2123,"y":1.93,"x2":2167,"y2":1.96},
{"kind":"arrow","panel":"a","tone":"secondary","dir":"up","x":1155,"y":1.89,"x2":1155,"y2":2.15},
{"kind":"arrow","panel":"a","tone":"primary","dir":"down","x":1467,"y":1.58,"x2":1467,"y2":1.15},
{"kind":"arrow","panel":"a","tone":"secondary","dir":"down","x":2187,"y":0.72,"x2":2187,"y2":0.50},
{"kind":"arrow","panel":"b","tone":"primary","dir":"down","x":2330,"y":6.23,"x2":2330,"y2":5.60},
{"kind":"arrow","panel":"b","tone":"primary","dir":"down","x":2390,"y":5.76,"x2":2390,"y2":5.60},
{"kind":"arrow","panel":"b","tone":"primary","dir":"up","x":2002,"y":4.74,"x2":2002,"y2":4.97},
{"kind":"arrow","panel":"b","tone":"primary","dir":"down","x":2257,"y":4.85,"x2":2257,"y2":4.56},
{"kind":"arrow","panel":"b","tone":"primary","dir":"down","x":2255,"y":3.42,"x2":2255,"y2":3.07},
{"kind":"arrow","panel":"b","tone":"primary","dir":"up","x":1547,"y":2.90,"x2":1547,"y2":3.13},
{"kind":"arrow","panel":"b","tone":"primary","dir":"up","x":2202,"y":1.18,"x2":2202,"y2":1.41},
{"kind":"arrow","panel":"b","tone":"secondary","dir":"up","x":2245,"y":0.75,"x2":2245,"y2":1.44},
{"kind":"arrow","panel":"b","tone":"secondary","dir":"up","x":2291,"y":1.12,"x2":2291,"y2":1.61},
{"kind":"arrow","panel":"c","tone":"primary","dir":"up","x":1477,"y":4.68,"x2":1477,"y2":5.05},
{"kind":"arrow","panel":"c","tone":"secondary","dir":"down","x":2285,"y":4.85,"x2":2285,"y2":4.62},
{"kind":"arrow","panel":"c","tone":"secondary","dir":"up","x":2235,"y":4.25,"x2":2235,"y2":4.45},
{"kind":"arrow","panel":"c","tone":"secondary","dir":"up","x":1408,"y":3.41,"x2":1408,"y2":3.67},
{"kind":"arrow","panel":"c","tone":"secondary","dir":"up","x":1463,"y":3.01,"x2":1463,"y2":3.79},
{"kind":"arrow","panel":"c","tone":"primary","dir":"up","x":1512,"y":3.39,"x2":1512,"y2":3.64},
{"kind":"arrow","panel":"c","tone":"secondary","dir":"down","x":2337,"y":2.47,"x2":2337,"y2":2.18},
{"kind":"arrow","panel":"c","tone":"secondary","dir":"up","x":1537,"y":1.34,"x2":1537,"y2":1.57},
{"kind":"arrow","panel":"c","tone":"primary","dir":"up","x":1492,"y":1.06,"x2":1492,"y2":1.40},
{"kind":"arrow","panel":"c","tone":"secondary","dir":"up","x":1448,"y":0.77,"x2":1448,"y2":1.23},
{"kind":"arrow","panel":"d","tone":"primary","dir":"up","x":1452,"y":4.39,"x2":1452,"y2":4.68},
{"kind":"arrow","panel":"d","tone":"secondary","dir":"down","x":1945,"y":4.79,"x2":1945,"y2":4.22},
{"kind":"arrow","panel":"d","tone":"secondary","dir":"up","x":1401,"y":2.70,"x2":1401,"y2":2.95},
{"kind":"arrow","panel":"d","tone":"primary","dir":"up","x":1479,"y":2.03,"x2":1479,"y2":2.95},
{"kind":"arrow","panel":"d","tone":"primary","dir":"up","x":1555,"y":2.78,"x2":1555,"y2":3.01},
{"kind":"arrow","panel":"d","tone":"primary","dir":"up","x":2196,"y":1.63,"x2":2196,"y2":1.92}
]
},
"data": {"name": "all"},
"columns": 2,
"spacing": {"row": 13, "column": 15},
"concat": [
{"transform": [{"filter": "datum.panel === 'a'"}], "width": 442, "height": 407,
 "encoding": {"x": {"field": "x", "type": "quantitative", "title": "Wavelength (nm)", "scale": {"domain": [985, 2500], "nice": false, "zero": false}}, "y": {"field": "y", "type": "quantitative", "title": "Reflectance (offset for clarity)", "scale": {"domain": [0, 7], "nice": false, "zero": false}}},
 "resolve": {"axis": {"x": "independent", "y": "independent"}},
 "layer": [
  {"layer": [
   {"transform": [{"filter": "datum.kind === 'curve'"}], "mark": {"type": "line", "color": "#1a1a1a", "strokeWidth": 2}, "encoding": {"detail": {"field": "series"}}},
   {"transform": [{"filter": "datum.kind === 'arrow'"}], "mark": {"type": "rule", "strokeWidth": 1.8}, "encoding": {"x2": {"field": "x2"}, "y2": {"field": "y2"}, "color": {"field": "tone", "type": "nominal", "scale": {"domain": ["primary", "secondary"], "range": ["#111111", "#8c8c8c"]}, "legend": null}}},
   {"transform": [{"filter": "datum.kind === 'arrow' && datum.dir !== 'upright'"}], "mark": {"type": "point", "filled": true, "size": 45, "opacity": 1}, "encoding": {"x": {"field": "x2", "type": "quantitative", "title": "Wavelength (nm)"}, "y": {"field": "y2", "type": "quantitative", "title": "Reflectance (offset for clarity)"}, "shape": {"field": "dir", "type": "nominal", "scale": {"domain": ["up", "down", "right"], "range": ["triangle-up", "triangle-down", "triangle-right"]}, "legend": null}, "color": {"field": "tone", "type": "nominal", "legend": null}}},
   {"transform": [{"filter": "datum.kind === 'arrow' && datum.dir === 'upright'"}], "mark": {"type": "point", "filled": true, "size": 45, "opacity": 1, "shape": "triangle-up", "angle": 51}, "encoding": {"x": {"field": "x2", "type": "quantitative", "title": "Wavelength (nm)"}, "y": {"field": "y2", "type": "quantitative", "title": "Reflectance (offset for clarity)"}, "color": {"field": "tone", "type": "nominal", "legend": null}}},
   {"transform": [{"filter": "datum.kind === 'peak'"}], "mark": {"type": "text", "align": "center", "baseline": "middle", "fontSize": 15, "font": "Liberation Sans"}, "encoding": {"text": {"field": "text"}, "color": {"field": "tone", "type": "nominal", "legend": null}}}
  ]},
  {"transform": [{"filter": "datum.kind === 'name'"}], "mark": {"type": "text", "align": "left", "baseline": "middle", "fontSize": 17, "font": "Liberation Sans", "color": "#111111"},
   "encoding": {"text": {"field": "text"}, "x": {"field": "x", "type": "quantitative", "axis": {"orient": "top", "labels": false, "title": null, "grid": false}}, "y": {"field": "y", "type": "quantitative", "axis": {"orient": "right", "labels": false, "title": null, "grid": false}}}}
 ]},
{"transform": [{"filter": "datum.panel === 'b'"}], "width": 442, "height": 407,
 "encoding": {"x": {"field": "x", "type": "quantitative", "title": "Wavelength (nm)", "scale": {"domain": [985, 2500], "nice": false, "zero": false}}, "y": {"field": "y", "type": "quantitative", "title": "Reflectance (offset for clarity)", "scale": {"domain": [0, 7], "nice": false, "zero": false}}},
 "resolve": {"axis": {"x": "independent", "y": "independent"}},
 "layer": [
  {"layer": [
   {"transform": [{"filter": "datum.kind === 'curve'"}], "mark": {"type": "line", "color": "#1a1a1a", "strokeWidth": 2}, "encoding": {"detail": {"field": "series"}}},
   {"transform": [{"filter": "datum.kind === 'hull'"}], "mark": {"type": "rule", "color": "#8c8c8c", "strokeWidth": 2, "strokeDash": [5, 3]}, "encoding": {"x2": {"field": "x2"}, "y2": {"field": "y2"}}},
   {"transform": [{"filter": "datum.kind === 'arrow'"}], "mark": {"type": "rule", "strokeWidth": 1.8}, "encoding": {"x2": {"field": "x2"}, "y2": {"field": "y2"}, "color": {"field": "tone", "type": "nominal", "scale": {"domain": ["primary", "secondary"], "range": ["#111111", "#8c8c8c"]}, "legend": null}}},
   {"transform": [{"filter": "datum.kind === 'arrow'"}], "mark": {"type": "point", "filled": true, "size": 45, "opacity": 1}, "encoding": {"x": {"field": "x2", "type": "quantitative", "title": "Wavelength (nm)"}, "y": {"field": "y2", "type": "quantitative", "title": "Reflectance (offset for clarity)"}, "shape": {"field": "dir", "type": "nominal", "scale": {"domain": ["up", "down", "right"], "range": ["triangle-up", "triangle-down", "triangle-right"]}, "legend": null}, "color": {"field": "tone", "type": "nominal", "legend": null}}},
   {"transform": [{"filter": "datum.kind === 'peak'"}], "mark": {"type": "text", "align": "center", "baseline": "middle", "fontSize": 15, "font": "Liberation Sans"}, "encoding": {"text": {"field": "text"}, "color": {"field": "tone", "type": "nominal", "legend": null}}}
  ]},
  {"transform": [{"filter": "datum.kind === 'name'"}], "mark": {"type": "text", "align": "left", "baseline": "middle", "fontSize": 17, "font": "Liberation Sans", "color": "#111111"},
   "encoding": {"text": {"field": "text"}, "x": {"field": "x", "type": "quantitative", "axis": {"orient": "top", "labels": false, "title": null, "grid": false}}, "y": {"field": "y", "type": "quantitative", "axis": {"orient": "right", "labels": false, "title": null, "grid": false}}}}
 ]},
{"transform": [{"filter": "datum.panel === 'c'"}], "width": 442, "height": 407,
 "encoding": {"x": {"field": "x", "type": "quantitative", "title": "Wavelength (nm)", "scale": {"domain": [985, 2500], "nice": false, "zero": false}}, "y": {"field": "y", "type": "quantitative", "title": "Reflectance (offset for clarity)", "scale": {"domain": [0, 7], "nice": false, "zero": false}}},
 "resolve": {"axis": {"x": "independent", "y": "independent"}},
 "layer": [
  {"layer": [
   {"transform": [{"filter": "datum.kind === 'curve'"}], "mark": {"type": "line", "color": "#1a1a1a", "strokeWidth": 2}, "encoding": {"detail": {"field": "series"}}},
   {"transform": [{"filter": "datum.kind === 'arrow'"}], "mark": {"type": "rule", "strokeWidth": 1.8}, "encoding": {"x2": {"field": "x2"}, "y2": {"field": "y2"}, "color": {"field": "tone", "type": "nominal", "scale": {"domain": ["primary", "secondary"], "range": ["#111111", "#8c8c8c"]}, "legend": null}}},
   {"transform": [{"filter": "datum.kind === 'arrow'"}], "mark": {"type": "point", "filled": true, "size": 45, "opacity": 1}, "encoding": {"x": {"field": "x2", "type": "quantitative", "title": "Wavelength (nm)"}, "y": {"field": "y2", "type": "quantitative", "title": "Reflectance (offset for clarity)"}, "shape": {"field": "dir", "type": "nominal", "scale": {"domain": ["up", "down", "right"], "range": ["triangle-up", "triangle-down", "triangle-right"]}, "legend": null}, "color": {"field": "tone", "type": "nominal", "legend": null}}},
   {"transform": [{"filter": "datum.kind === 'peak'"}], "mark": {"type": "text", "align": "center", "baseline": "middle", "fontSize": 15, "font": "Liberation Sans"}, "encoding": {"text": {"field": "text"}, "color": {"field": "tone", "type": "nominal", "legend": null}}}
  ]},
  {"transform": [{"filter": "datum.kind === 'name'"}], "mark": {"type": "text", "align": "left", "baseline": "middle", "fontSize": 17, "font": "Liberation Sans", "color": "#111111"},
   "encoding": {"text": {"field": "text"}, "x": {"field": "x", "type": "quantitative", "axis": {"orient": "top", "labels": false, "title": null, "grid": false}}, "y": {"field": "y", "type": "quantitative", "axis": {"orient": "right", "labels": false, "title": null, "grid": false}}}}
 ]},
{"transform": [{"filter": "datum.panel === 'd'"}], "width": 442, "height": 407,
 "encoding": {"x": {"field": "x", "type": "quantitative", "title": "Wavelength (nm)", "scale": {"domain": [985, 2500], "nice": false, "zero": false}}, "y": {"field": "y", "type": "quantitative", "title": "Reflectance (offset for clarity)", "scale": {"domain": [0, 7], "nice": false, "zero": false}}},
 "resolve": {"axis": {"x": "independent", "y": "independent"}},
 "layer": [
  {"layer": [
   {"transform": [{"filter": "datum.kind === 'curve'"}], "mark": {"type": "line", "color": "#1a1a1a", "strokeWidth": 2}, "encoding": {"detail": {"field": "series"}}},
   {"transform": [{"filter": "datum.kind === 'arrow'"}], "mark": {"type": "rule", "strokeWidth": 1.8}, "encoding": {"x2": {"field": "x2"}, "y2": {"field": "y2"}, "color": {"field": "tone", "type": "nominal", "scale": {"domain": ["primary", "secondary"], "range": ["#111111", "#8c8c8c"]}, "legend": null}}},
   {"transform": [{"filter": "datum.kind === 'arrow'"}], "mark": {"type": "point", "filled": true, "size": 45, "opacity": 1}, "encoding": {"x": {"field": "x2", "type": "quantitative", "title": "Wavelength (nm)"}, "y": {"field": "y2", "type": "quantitative", "title": "Reflectance (offset for clarity)"}, "shape": {"field": "dir", "type": "nominal", "scale": {"domain": ["up", "down", "right"], "range": ["triangle-up", "triangle-down", "triangle-right"]}, "legend": null}, "color": {"field": "tone", "type": "nominal", "legend": null}}},
   {"transform": [{"filter": "datum.kind === 'peak'"}], "mark": {"type": "text", "align": "center", "baseline": "middle", "fontSize": 15, "font": "Liberation Sans"}, "encoding": {"text": {"field": "text"}, "color": {"field": "tone", "type": "nominal", "legend": null}}}
  ]},
  {"transform": [{"filter": "datum.kind === 'name'"}], "mark": {"type": "text", "align": "left", "baseline": "middle", "fontSize": 17, "font": "Liberation Sans", "color": "#111111"},
   "encoding": {"text": {"field": "text"}, "x": {"field": "x", "type": "quantitative", "axis": {"orient": "top", "labels": false, "title": null, "grid": false}}, "y": {"field": "y", "type": "quantitative", "axis": {"orient": "right", "labels": false, "title": null, "grid": false}}}}
 ]}
]
}
